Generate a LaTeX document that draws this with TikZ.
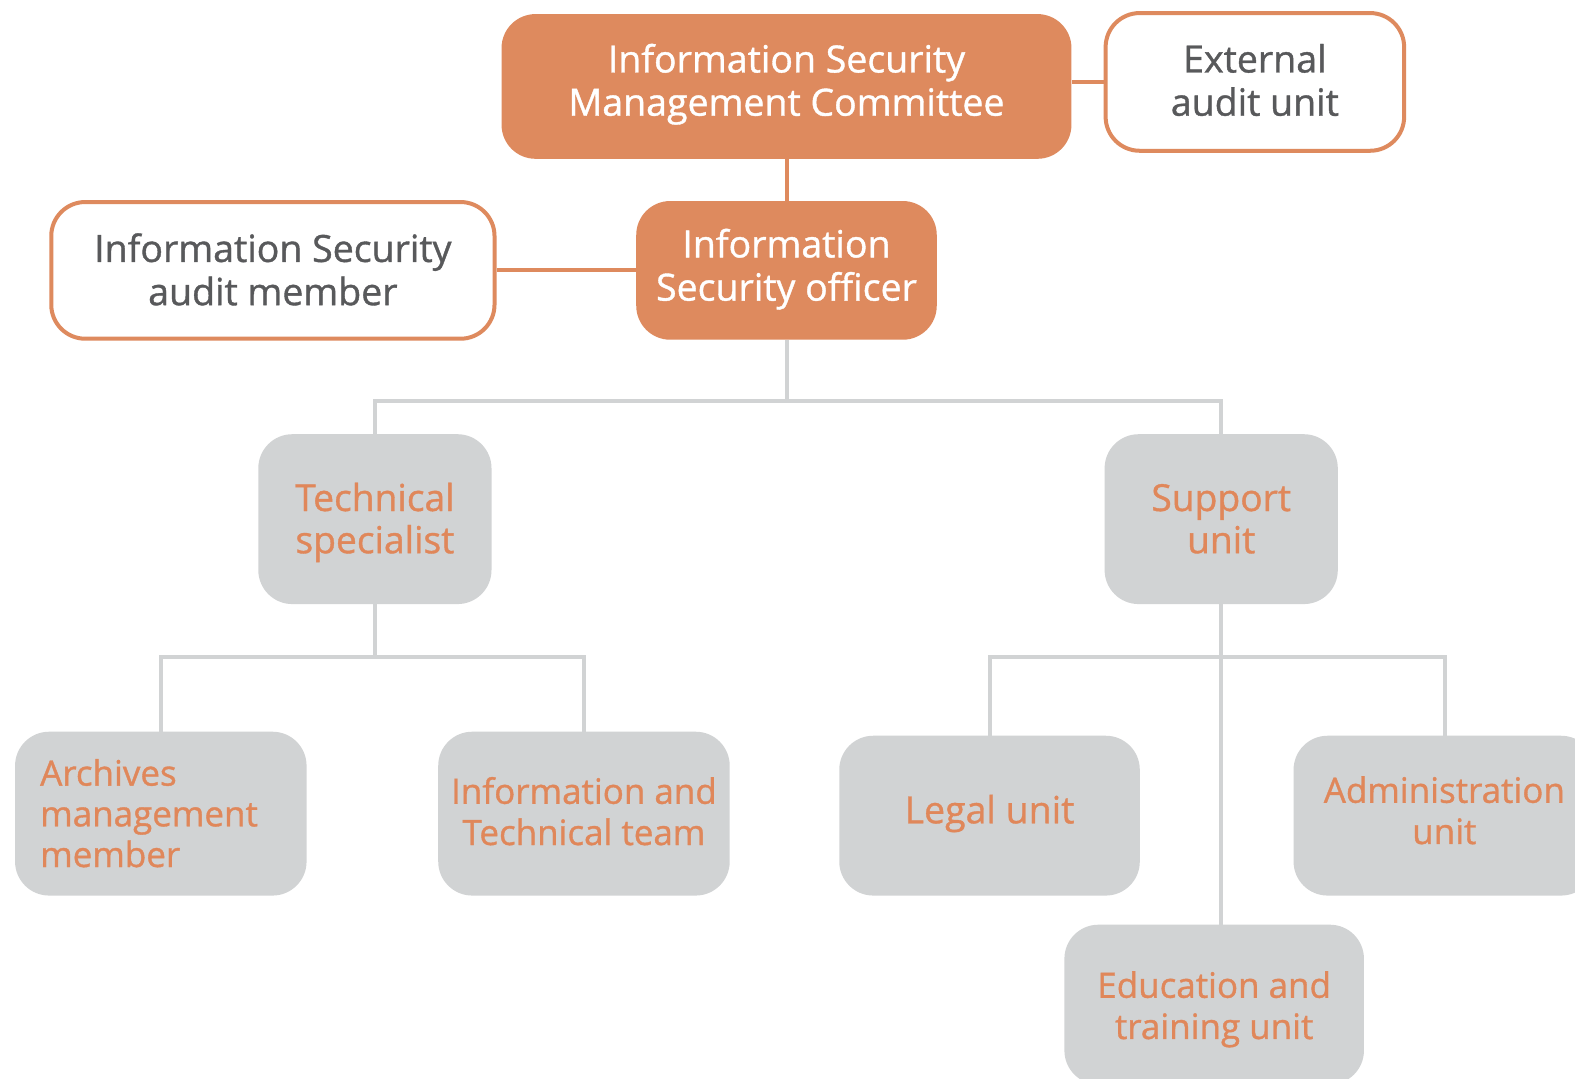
\documentclass[tikz,border=0pt]{standalone}
\usepackage{fontspec}
\setmainfont{Open Sans}[FakeBold=1]
\definecolor{orfill}{HTML}{DE8A5E}
\definecolor{ortext}{HTML}{E0875A}
\definecolor{grfill}{HTML}{D1D3D4}
\definecolor{dktext}{HTML}{58595B}
\newsavebox\tbox
\newcommand{\boxtext}[2]{\sbox\tbox{\begin{tabular}{@{}c@{}}#2\end{tabular}}\raisebox{#1bp}[\ht\tbox][\dp\tbox]{\usebox\tbox}}
\newcommand{\boxtextl}[2]{\sbox\tbox{\begin{tabular}{@{}l@{}}#2\end{tabular}}\makebox[240bp][l]{\raisebox{#1bp}[\ht\tbox][\dp\tbox]{\usebox\tbox}}}
\tikzset{
  base/.style={rounded corners=34bp, inner sep=0pt,
    font=\fontsize{37.3bp}{43bp}\selectfont},
  small/.style={font=\fontsize{34.8bp}{41bp}\selectfont},
  orbox/.style={base, fill=orfill, text=white},
  wbox/.style={base, fill=white, draw=orfill, line width=4bp, text=dktext},
  gbox/.style={base, fill=grfill, text=ortext},
  orline/.style={draw=orfill, line width=4bp},
  grline/.style={draw=grfill, line width=4bp},
}
\begin{document}
\begin{tikzpicture}[x=1bp,y=-1bp,scale=1.0051,every node/.append style={transform shape}]
\useasboundingbox (0,0) rectangle (1567,1073.5);
\clip (0,0) rectangle (1567,1073.5);
\fill[white] (0,0) rectangle (1567,1073.5);
\node[orbox, minimum width=567bp, minimum height=144bp] (ismc) at (782.5,86) {\boxtext{1}{Information Security\\Management Committee}};
\node[wbox, minimum width=297bp, minimum height=137bp] (ext) at (1248.5,81.5) {\boxtext{-3.5}{External\\audit unit}};
\node[orbox, minimum width=299bp, minimum height=138bp] (iso) at (782.5,269) {\boxtext{0}{Information\\Security officer}};
\node[wbox, minimum width=441bp, minimum height=136bp] (aud) at (271.5,269) {\boxtext{-4.5}{Information Security\\audit member}};
\node[gbox, minimum width=232bp, minimum height=169bp, font=\fontsize{37bp}{42bp}\selectfont] (tech) at (373,516.5) {\boxtext{-4.5}{Technical\\specialist}};
\node[gbox, minimum width=232bp, minimum height=169bp, font=\fontsize{37bp}{42bp}\selectfont] (sup) at (1215,516.5) {\boxtext{-4.5}{Support\\unit}};
\node[gbox, minimum width=290bp, minimum height=163bp, font=\fontsize{34.8bp}{40.5bp}\selectfont] (arch) at (160,809.5) {\boxtextl{-4.5}{Archives\\management\\member}};
\node[gbox, small, minimum width=290bp, minimum height=163bp] (itt) at (581,809.5) {\boxtext{-2.5}{Information and\\Technical team}};
\node[gbox, minimum width=299bp, minimum height=159bp] (legal) at (984.5,811.5) {\boxtext{1}{Legal unit}};
\node[gbox, small, minimum width=300bp, minimum height=159bp] (admin) at (1437,811.5) {\boxtext{0.5}{Administration\\unit}};
\node[gbox, small, minimum width=298bp, minimum height=159bp] (edu) at (1208,999.5) {\boxtext{-5.5}{Education and\\training unit}};
\coordinate (j1) at (782.5,399);
\coordinate (j2) at (373,654);
\coordinate (j3) at (1215,654);
\draw[orline] (ext.west) -- (ext.west -| ismc.east);
\draw[orline] (ismc.south) -- (iso.north);
\draw[orline] (iso.west) -- (aud.east);
\draw[grline] (iso.south) -- (j1);
\draw[grline] (tech.north) |- (j1) -| (sup.north);
\draw[grline] (tech.south) -- (j2);
\draw[grline] (arch.north) |- (j2) -| (itt.north);
\draw[grline] (sup.south) -- (sup.south |- edu.north);
\draw[grline] (legal.north) |- (j3) -| (admin.north);
\end{tikzpicture}
\end{document}
